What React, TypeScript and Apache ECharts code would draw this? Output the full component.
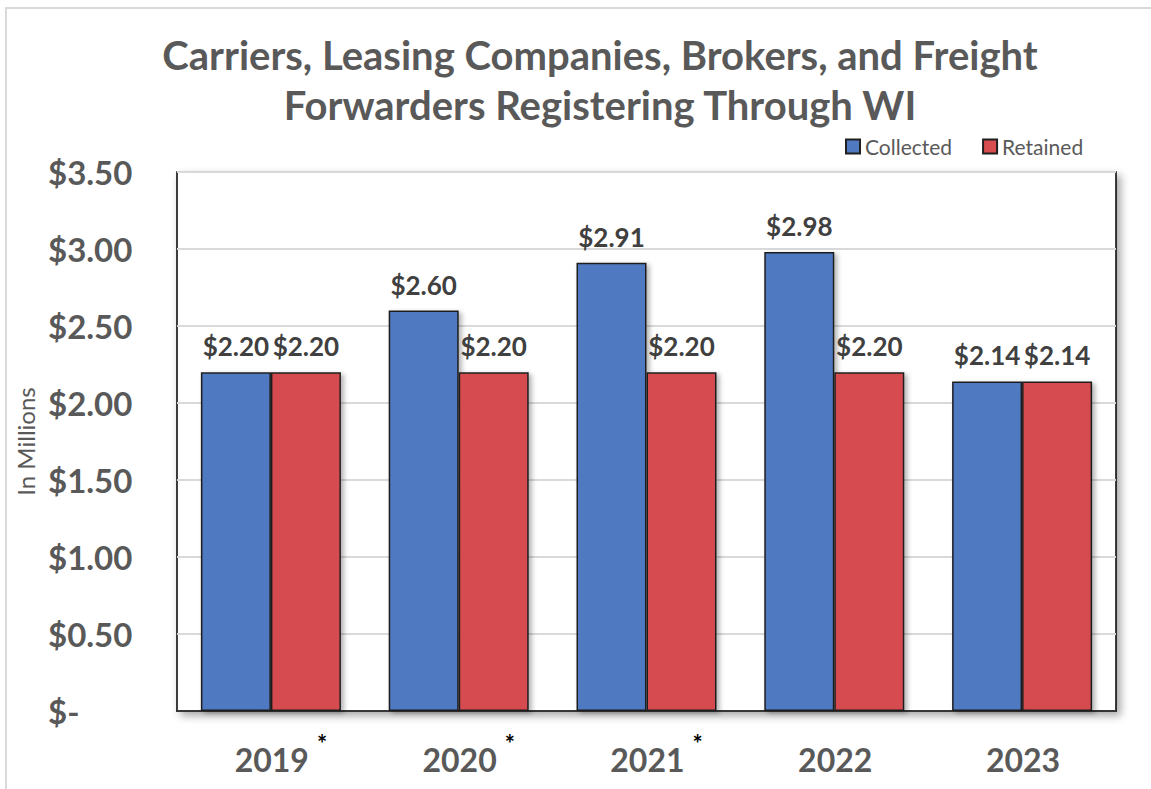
import React, { useEffect, useRef } from "react";
import * as echarts from "echarts";

const categories = ["2019", "2020", "2021", "2022", "2023"];
const starred = [true, true, true, false, false];
const collected = [2.2, 2.6, 2.91, 2.98, 2.14];
const retained = [2.2, 2.2, 2.2, 2.2, 2.14];
const titleLines = [
  "Carriers, Leasing Companies, Brokers, and Freight",
  "Forwarders Registering Through WI",
];

const FONT = "Lato, 'Open Sans', sans-serif";

export default function App() {
  const ref = useRef<HTMLDivElement>(null);
  useEffect(() => {
    document.body.style.margin = "0";
    const chart = echarts.init(ref.current!, null, { renderer: "svg" });
    const barStyle = (color: string) => ({
      color,
      borderColor: "#1f1f1f",
      borderWidth: 1.5,
      shadowBlur: 5,
      shadowColor: "rgba(0,0,0,0.3)",
      shadowOffsetX: 3,
      shadowOffsetY: 2,
    });
    const label = {
      show: true,
      position: "top",
      distance: 13,
      fontFamily: FONT,
      fontSize: 26,
      fontWeight: "bold",
      color: "#404040",
      formatter: (p: any) => "$" + Number(p.value).toFixed(2),
    };
    const xText = {
      fontFamily: FONT,
      fontSize: 32,
      fontWeight: "bold",
      color: "#595959",
    };
    const starStyle = {
      fontFamily: FONT,
      fontSize: 24,
      fontWeight: "bold",
      padding: [0, 0, 33, 8],
    };
    chart.setOption({
      animation: false,
      backgroundColor: "#fff",
      textStyle: { fontFamily: FONT },
      graphic: [
        {
          type: "rect",
          shape: { x: 6, y: 8, width: 1170, height: 800 },
          style: { fill: "none", stroke: "#d9d9d9", lineWidth: 2 },
          silent: true,
          z: -10,
        },
      ],
      title: {
        text: titleLines.join("\n"),
        left: 595,
        textAlign: "center",
        top: 25,
        textStyle: {
          fontFamily: FONT,
          fontSize: 40,
          fontWeight: "bold",
          color: "#595959",
          lineHeight: 50,
        },
      },
      legend: {
        left: 845,
        top: 136,
        padding: 0,
        itemWidth: 14,
        itemHeight: 14,
        itemGap: 30,
        icon: "rect",
        itemStyle: { shadowBlur: 0, shadowOffsetX: 0, shadowOffsetY: 0 },
        textStyle: { fontFamily: FONT, fontSize: 21, color: "#595959" },
        data: ["Collected", "Retained"],
      },
      grid: {
        left: 177,
        top: 172,
        right: 35,
        bottom: 78,
        show: true,
        backgroundColor: "#fff",
        borderColor: "#000",
        borderWidth: 1.5,
        shadowBlur: 8,
        shadowColor: "rgba(0,0,0,0.35)",
        shadowOffsetX: 4,
        shadowOffsetY: 4,
      },
      xAxis: {
        type: "category",
        data: categories,
        axisTick: { show: false },
        axisLine: { show: true, lineStyle: { color: "#000", width: 1.5 } },
        axisLabel: {
          interval: 0,
          margin: 20,
          ...xText,
          formatter: (v: string, i: number) =>
            "{l|" + v + "}" + (starred[i] ? "{s|*}" : "{h|*}"),
          rich: {
            l: { ...xText, padding: [0, 0, 0, 20] },
            s: { ...starStyle, color: "#000" },
            h: { ...starStyle, color: "rgba(0,0,0,0)" },
          },
        },
      },
      yAxis: {
        type: "value",
        min: 0,
        max: 3.5,
        interval: 0.5,
        name: "In Millions",
        nameLocation: "middle",
        nameRotate: 90,
        nameGap: 136,
        nameTextStyle: { fontFamily: FONT, fontSize: 24, color: "#595959" },
        axisLine: { show: false },
        axisTick: { show: false },
        splitLine: { lineStyle: { color: "#d9d9d9", width: 2 } },
        axisLabel: {
          align: "left",
          margin: 129,
          fontFamily: FONT,
          fontSize: 33,
          fontWeight: "bold",
          color: "#595959",
          formatter: (v: number) => (v === 0 ? "$-" : "$" + v.toFixed(2)),
        },
      },
      series: [
        {
          name: "Collected",
          type: "bar",
          data: collected,
          barWidth: 70,
          barGap: "0%",
          itemStyle: barStyle("#4f7ac2"),
          label,
        },
        {
          name: "Retained",
          type: "bar",
          data: retained,
          barWidth: 70,
          barGap: "0%",
          itemStyle: barStyle("#d64c4f"),
          label,
        },
      ],
    });
    return () => chart.dispose();
  }, []);
  return <div ref={ref} style={{ width: 1151, height: 789 }} />;
}
